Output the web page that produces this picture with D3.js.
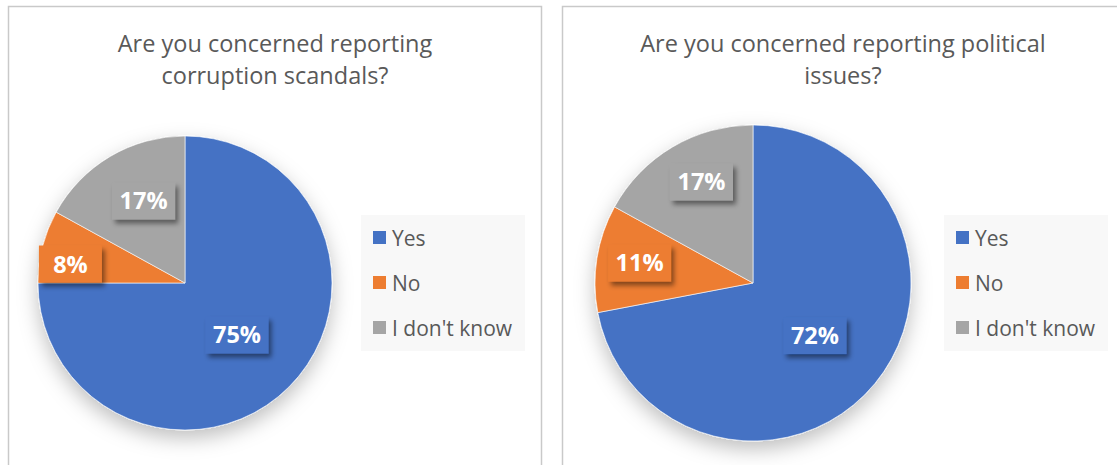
<!DOCTYPE html>
<html>
<head>
<meta charset="utf-8">
<script src="https://cdn.jsdelivr.net/npm/d3@7"></script>
<style>
  html, body { margin: 0; padding: 0; background: #fff; }
  svg { display: block; font-family: "Open Sans", sans-serif; }
</style>
</head>
<body>
<svg id="chart" width="1117" height="465"></svg>
<script>
// ---- data ----
const categories = ["Yes", "No", "I don't know"];
const colors = ["#4472C4", "#ED7D31", "#A5A5A5"];
const titles = [
  ["Are you concerned reporting", "corruption scandals?"],
  ["Are you concerned reporting political", "issues?"]
];
const corruptionValues = [75, 8, 17];
const politicalValues = [72, 11, 17];

// ---- layout (not data) ----
const panels = [
  { x: 8, w: 533, cx: 185, cy: 283, r: 147, titleX: 275, legendX: 361,
    labelPos: [[0.50, 135], [0.79, 279.4], [0.625, 333.2]] },
  { x: 562, w: 600, cx: 753, cy: 283, r: 158, titleX: 843, legendX: 944,
    labelPos: [[0.514, 130.3], [0.729, 280], [0.718, 333]] }
];
const seriesList = [corruptionValues, politicalValues];

const svg = d3.select("#chart");
const defs = svg.append("defs");

const pieShadow = defs.append("filter").attr("id", "pieShadow")
  .attr("x", "-30%").attr("y", "-30%").attr("width", "160%").attr("height", "160%");
pieShadow.append("feDropShadow").attr("dx", 0).attr("dy", 8)
  .attr("stdDeviation", 10).attr("flood-color", "#000").attr("flood-opacity", 0.25);

const labelShadow = defs.append("filter").attr("id", "labelShadow")
  .attr("x", "-30%").attr("y", "-30%").attr("width", "170%").attr("height", "170%");
labelShadow.append("feDropShadow").attr("dx", 3).attr("dy", 4)
  .attr("stdDeviation", 2.5).attr("flood-color", "#000").attr("flood-opacity", 0.45);

const pie = d3.pie().sort(null).value(d => d).startAngle(0).endAngle(2 * Math.PI);

panels.forEach((p, i) => {
  const values = seriesList[i];
  const g = svg.append("g");

  // panel border
  g.append("rect")
    .attr("x", p.x + 0.5).attr("y", 6.5)
    .attr("width", p.w).attr("height", 480)
    .attr("fill", "#fff").attr("stroke", "#c9c9c9").attr("stroke-width", 1.5);

  // title
  const t = g.append("text")
    .attr("x", p.titleX).attr("y", 52)
    .attr("text-anchor", "middle")
    .attr("font-size", 23.5).attr("fill", "#595959");
  titles[i].forEach((line, k) => {
    t.append("tspan").attr("x", p.titleX).attr("dy", k === 0 ? 0 : 32).text(line);
  });

  // pie
  const arcs = pie(values);
  const arc = d3.arc().innerRadius(0).outerRadius(p.r);
  const pg = g.append("g").attr("transform", `translate(${p.cx},${p.cy})`);
  pg.append("g").attr("filter", "url(#pieShadow)")
    .selectAll("path").data(arcs).join("path")
    .attr("d", arc)
    .attr("fill", (d, j) => colors[j])
    .attr("stroke", "#fff").attr("stroke-width", 0.6);

  // data labels
  const boxW = 63, boxH = 37;
  const lg = pg.append("g");
  arcs.forEach((d, j) => {
    const [f, deg] = p.labelPos[j];
    const a = deg * Math.PI / 180;
    const lx = Math.sin(a) * f * p.r;
    const ly = -Math.cos(a) * f * p.r;
    const item = lg.append("g").attr("transform", `translate(${lx},${ly})`);
    item.append("rect")
      .attr("x", -boxW / 2).attr("y", -boxH / 2)
      .attr("width", boxW).attr("height", boxH)
      .attr("fill", colors[j])
      .attr("filter", "url(#labelShadow)");
    item.append("text")
      .attr("text-anchor", "middle").attr("dy", "0.36em")
      .attr("font-size", 23.5).attr("font-weight", "bold")
      .attr("fill", "#fff")
      .text(d3.format(".0%")(d.data / 100));
  });

  // legend
  const leg = g.append("g");
  leg.append("rect")
    .attr("x", p.legendX).attr("y", 215)
    .attr("width", 164).attr("height", 136)
    .attr("fill", "#f8f8f8");
  const rowY = d3.scalePoint().domain(categories).range([238, 328]);
  categories.forEach((c, j) => {
    const y = rowY(c);
    leg.append("rect")
      .attr("x", p.legendX + 12).attr("y", y - 7)
      .attr("width", 13).attr("height", 13)
      .attr("fill", colors[j]);
    leg.append("text")
      .attr("x", p.legendX + 31).attr("y", y)
      .attr("dy", "0.36em")
      .attr("font-size", 21).attr("fill", "#595959")
      .text(c);
  });
});
</script>
</body>
</html>
